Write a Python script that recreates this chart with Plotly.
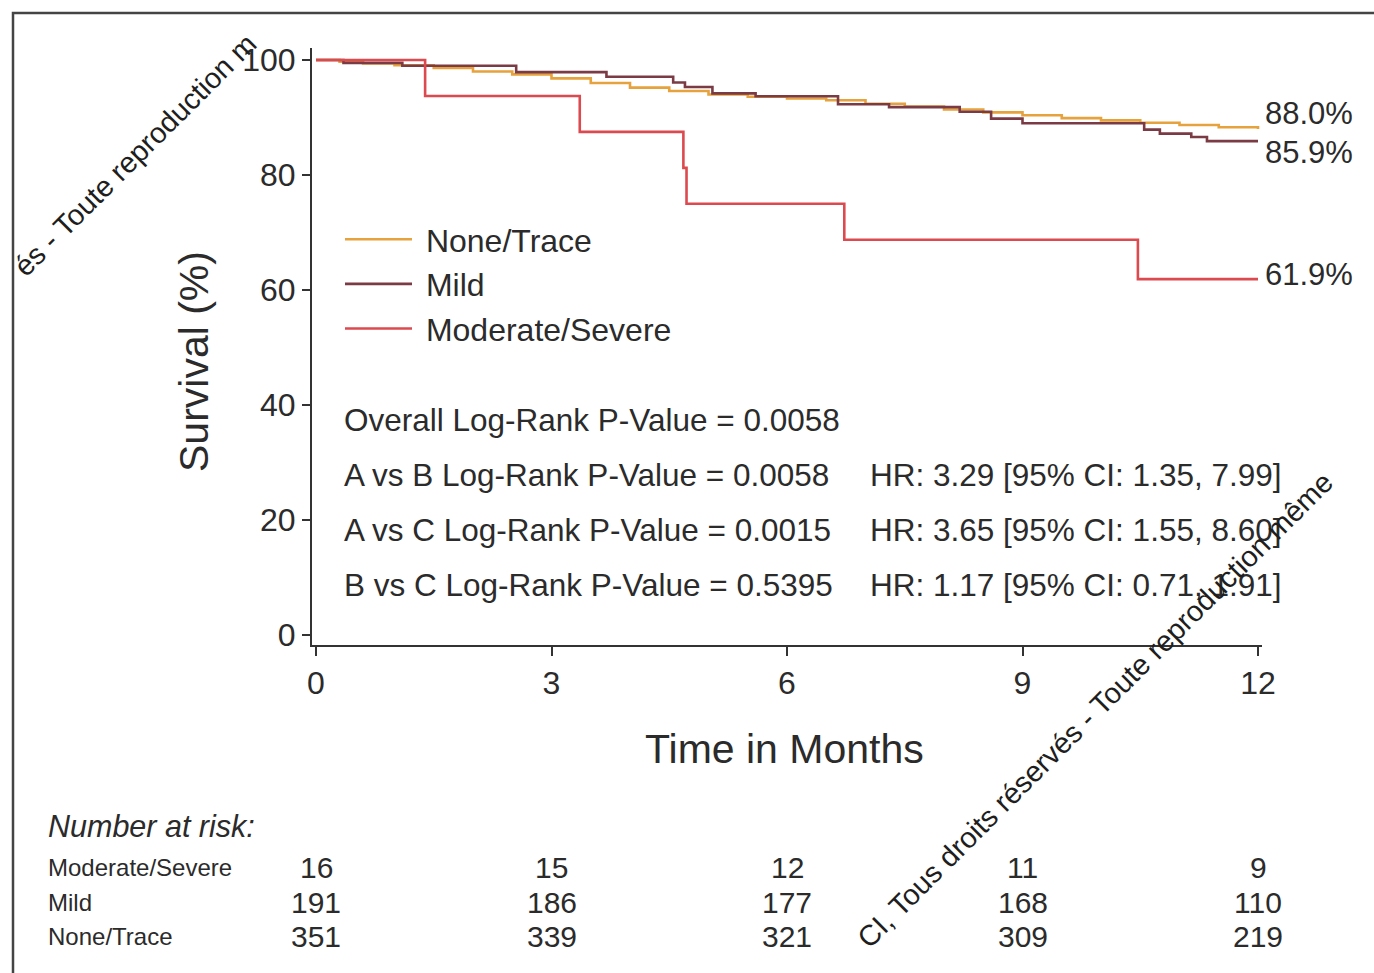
import plotly.graph_objects as go

# ---------------- data ----------------
months_ticks = [0, 3, 6, 9, 12]

none_t = [0, 0.3, 0.6, 1.0, 1.5, 2.0, 2.5, 3.0, 3.5, 4.0, 4.5, 5.0, 5.5, 6.0, 6.5,
          7.0, 7.5, 8.0, 8.5, 9.0, 9.5, 10.0, 10.5, 11.0, 11.5, 12.0]
none_s = [100, 99.7, 99.4, 99.1, 98.6, 98.0, 97.5, 96.8, 96.0, 95.2, 94.6, 94.0, 93.6,
          93.3, 93.0, 92.4, 91.9, 91.4, 90.9, 90.4, 89.9, 89.5, 89.1, 88.7, 88.3, 88.0]

mild_t = [0, 0.35, 1.1, 2.55, 3.7, 4.55, 4.7, 5.05, 5.6, 6.65, 7.3, 8.2, 8.6, 9.0,
          10.55, 10.75, 11.15, 11.35, 12.0]
mild_s = [100, 99.5, 99.0, 97.9, 97.1, 96.1, 95.3, 94.2, 93.7, 92.3, 91.8, 91.0, 89.8,
          89.0, 87.9, 87.2, 86.6, 85.9, 85.9]

mod_t = [0, 1.39, 3.36, 4.68, 4.72, 6.73, 10.47, 12.0]
mod_s = [100, 93.75, 87.5, 81.25, 75.0, 68.75, 61.9, 61.9]

group_names = ["None/Trace", "Mild", "Moderate/Severe"]
final_labels = ["88.0%", "85.9%", "61.9%"]
final_values = [88.0, 85.9, 61.9]

risk_mod = [16, 15, 12, 11, 9]
risk_mild = [191, 186, 177, 168, 110]
risk_none = [351, 339, 321, 309, 219]

stats_left = ["Overall Log-Rank P-Value = 0.0058",
              "A vs B Log-Rank P-Value = 0.0058",
              "A vs C Log-Rank P-Value = 0.0015",
              "B vs C Log-Rank P-Value = 0.5395"]
stats_right = ["",
               "HR: 3.29 [95% CI: 1.35, 7.99]",
               "HR: 3.65 [95% CI: 1.55, 8.60]",
               "HR: 1.17 [95% CI: 0.71, 1.91]"]

watermark_parts = ["CI, Tous droits réservés - Toute reproduction même",
                   "és - Toute reproduction m"]

colors = ["#E6A23C", "#7B3B45", "#DC4A4F"]

# ---------------- geometry ----------------
W, H = 1374, 973
L, R, T, B = 312, 1262, 48, 645  # plot area in px


def px(xp):
    return (xp - L) / (R - L)


def py(yp):
    return (B - yp) / (B - T)


FONT = "Liberation Sans, Arial, sans-serif"
TXT = "#2b2b2b"

fig = go.Figure()
series = [(none_t, none_s), (mild_t, mild_s), (mod_t, mod_s)]
for (t, s), name, c in zip(series, group_names, colors):
    fig.add_trace(go.Scatter(x=t, y=s, mode="lines", name="\u00a0" + name,
                             line=dict(color=c, width=2.6, shape="hv")))

ann = []
# end labels
shifts = [16, -11, 5]
for lab, v, sh in zip(final_labels, final_values, shifts):
    ann.append(dict(x=12, y=v, xref="x", yref="y", text=lab, showarrow=False,
                    xanchor="left", xshift=5, yshift=sh,
                    font=dict(size=31, color=TXT, family=FONT)))

# stats text
ys = [420, 475, 530, 585]
for yv, a, b in zip(ys, stats_left, stats_right):
    ann.append(dict(x=px(342), y=py(yv), xref="paper", yref="paper", text=a,
                    showarrow=False, xanchor="left", yanchor="middle",
                    font=dict(size=31.5, color=TXT, family=FONT)))
    if b:
        ann.append(dict(x=px(868), y=py(yv), xref="paper", yref="paper", text=b,
                        showarrow=False, xanchor="left", yanchor="middle",
                        font=dict(size=31.5, color=TXT, family=FONT)))

# axis titles
ann.append(dict(x=px(784), y=py(749), xref="paper", yref="paper", text="Time in Months",
                showarrow=False, xanchor="center", yanchor="middle",
                font=dict(size=41, color=TXT, family=FONT)))
ann.append(dict(x=px(194), y=py(362), xref="paper", yref="paper", text="Survival (%)",
                showarrow=False, textangle=-90, xanchor="center", yanchor="middle",
                font=dict(size=41, color=TXT, family=FONT)))

# number at risk table
ann.append(dict(x=px(46), y=py(826), xref="paper", yref="paper",
                text="<i>Number at risk:</i>", showarrow=False, xanchor="left",
                yanchor="middle", font=dict(size=30.5, color=TXT, family=FONT)))
rows = [("Moderate/Severe", risk_mod, 868), ("Mild", risk_mild, 902),
        ("None/Trace", risk_none, 936)]
for lab, vals, yv in rows:
    ann.append(dict(x=px(46), y=py(yv), xref="paper", yref="paper", text=lab,
                    showarrow=False, xanchor="left", yanchor="middle",
                    font=dict(size=24, color=TXT, family=FONT)))
    for m, v in zip(months_ticks, vals):
        ann.append(dict(x=m, y=py(yv), xref="x", yref="paper", text=str(v),
                        showarrow=False, xanchor="center", yanchor="middle",
                        font=dict(size=30, color=TXT, family=FONT)))

# diagonal watermark text (black)
for txt, (cx, cy) in zip(watermark_parts, [(1095, 710), (135, 155)]):
    ann.append(dict(x=px(cx), y=py(cy), xref="paper", yref="paper", text=txt,
                    showarrow=False, textangle=-45, xanchor="center", yanchor="middle",
                    font=dict(size=29, color="#1e1e1e", family=FONT)))

fig.update_layout(
    width=W, height=H, autosize=False,
    margin=dict(l=L, r=W - R, t=T, b=H - B),
    paper_bgcolor="white", plot_bgcolor="white",
    font=dict(family=FONT, color=TXT),
    showlegend=True,
    legend=dict(x=px(340), y=py(212), xanchor="left", yanchor="top",
                font=dict(size=32, color=TXT, family=FONT),
                bgcolor="rgba(0,0,0,0)", itemwidth=67, tracegroupgap=0),
    annotations=ann,
    shapes=[dict(type="rect", xref="paper", yref="paper",
                 x0=px(13), x1=px(1390), y0=py(990), y1=py(13),
                 line=dict(color="#444", width=2.5))],
)
fig.update_xaxes(range=[-0.051, 12.051], tickvals=months_ticks, ticks="outside",
                 ticklen=9, tickwidth=1.5, tickcolor="#333", showline=True,
                 linecolor="#333", linewidth=2, showgrid=False, zeroline=False,
                 tickfont=dict(size=32, color=TXT, family=FONT))
fig.update_yaxes(range=[-1.74, 102.09], tickvals=[0, 20, 40, 60, 80, 100],
                 ticks="outside", ticklen=8, tickwidth=1.5, tickcolor="#333",
                 showline=True, linecolor="#333", linewidth=2, showgrid=False,
                 zeroline=False, tickfont=dict(size=32, color=TXT, family=FONT))

fig.write_html("out.html", config={"displayModeBar": False},
               post_script="document.body.style.margin='0';"
                           "document.body.style.overflow='hidden';")
